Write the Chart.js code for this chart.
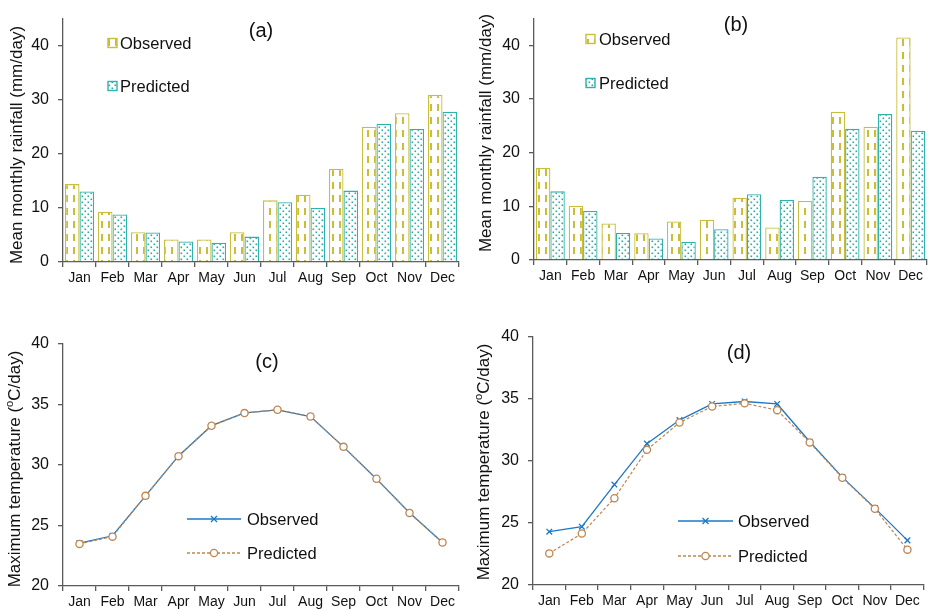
<!DOCTYPE html>
<html>
<head>
<meta charset="utf-8">
<script src="https://cdn.jsdelivr.net/npm/chart.js@4.4.0/dist/chart.umd.min.js"></script>
<style>
  html, body { margin:0; padding:0; background:#fff; }
  #wrap { position:relative; width:929px; height:612px; overflow:hidden; }
  canvas { position:absolute; }
</style>
</head>
<body>
<div id="wrap">
  <canvas id="ca" width="465" height="300" style="left:0;top:0"></canvas>
  <canvas id="cb" width="464" height="300" style="left:465px;top:0"></canvas>
  <canvas id="cc" width="465" height="312" style="left:0;top:300px"></canvas>
  <canvas id="cd" width="464" height="312" style="left:465px;top:300px"></canvas>
</div>
<script>
// ---------------- DATA ----------------
const months = ['Jan','Feb','Mar','Apr','May','Jun','Jul','Aug','Sep','Oct','Nov','Dec'];
const seriesNames = ['Observed','Predicted'];

const rainObsA  = [14.4, 9.3, 5.5, 4.15, 4.15, 5.5, 11.4, 12.45, 17.2, 25.0, 27.5, 30.9];
const rainPredA = [13.05, 8.8, 5.45, 3.8, 3.55, 4.7, 11.05, 10.0, 13.2, 25.55, 24.6, 27.8];

const rainObsB  = [17.2, 10.1, 6.8, 5.0, 7.2, 7.5, 11.6, 6.05, 11.0, 27.65, 24.85, 41.5];
const rainPredB = [12.8, 9.15, 5.05, 4.0, 3.4, 5.75, 12.25, 11.2, 15.5, 24.45, 27.2, 24.1];

const tempObsC  = [23.55, 24.15, 27.45, 30.75, 33.25, 34.3, 34.55, 34.0, 31.5, 28.85, 26.05, 23.6];
const tempPredC = [23.48, 24.08, 27.45, 30.73, 33.24, 34.29, 34.57, 34.01, 31.5, 28.86, 26.04, 23.59];

const tempObsD  = [24.3, 24.7, 28.1, 31.4, 33.3, 34.6, 34.8, 34.6, 31.55, 28.7, 26.2, 23.6];
const tempPredD = [22.55, 24.15, 27.0, 30.9, 33.1, 34.4, 34.65, 34.1, 31.5, 28.65, 26.15, 22.85];

const rainTicks = [0, 10, 20, 30, 40];
const tempTicks = [20, 25, 30, 35, 40];

// ---------------- STYLE ----------------
Chart.defaults.font.family = '"Liberation Sans", Arial, sans-serif';
Chart.defaults.color = '#111111';
const AXIS = '#5a5a5a';
const OBS_BAR = '#C9BD3E';
const PRED_BAR = '#2FB2AB';
const OBS_LINE = '#1B78C6';
const PRED_LINE = '#BE8650';

function makePattern(draw, w, h) {
  const t = document.createElement('canvas');
  t.width = w; t.height = h;
  const g = t.getContext('2d');
  g.fillStyle = '#ffffff'; g.fillRect(0, 0, w, h);
  draw(g);
  return document.createElement('canvas').getContext('2d').createPattern(t, 'repeat');
}
const dashPattern = makePattern(g => { g.fillStyle = '#CBBE36'; g.fillRect(3, 0, 2, 7); }, 7, 13);
const dotPattern = makePattern(g => {
  g.fillStyle = '#2BA9A2';
  g.fillRect(0.5, 0.5, 1.6, 1.6);
  g.fillRect(3.5, 3.5, 1.6, 1.6);
}, 6, 6);

// ---------------- OVERLAY PLUGIN (titles, legends) ----------------
const overlay = {
  id: 'overlay',
  afterDraw(chart, args, o) {
    const ctx = chart.ctx;
    ctx.save();
    ctx.fillStyle = '#111';
    ctx.font = '20px "Liberation Sans", Arial, sans-serif';
    ctx.textAlign = 'center'; ctx.textBaseline = 'middle';
    ctx.fillText(o.label, o.labelX, o.labelY);
    ctx.save();
    ctx.translate(o.ytX, o.ytY);
    ctx.rotate(-Math.PI / 2);
    const big = '17px "Liberation Sans", Arial, sans-serif';
    const small = '11px "Liberation Sans", Arial, sans-serif';
    let total = 0;
    o.ytSegs.forEach(s => { ctx.font = s.sup ? small : big; total += ctx.measureText(s.t).width; });
    let x = -total / 2;
    ctx.textAlign = 'left';
    o.ytSegs.forEach(s => {
      ctx.font = s.sup ? small : big;
      ctx.fillText(s.t, x, s.sup ? -5 : 0);
      x += ctx.measureText(s.t).width;
    });
    ctx.restore();
    ctx.font = '16.5px "Liberation Sans", Arial, sans-serif';
    ctx.textAlign = 'left'; ctx.textBaseline = 'middle';
    o.legend.forEach((it, i) => {
      const ds = chart.data.datasets[i];
      if (o.legendType === 'bar') {
        ctx.fillStyle = ds.backgroundColor;
        ctx.fillRect(it.x, it.y - 4.5, 9, 9);
        ctx.strokeStyle = ds.borderColor; ctx.lineWidth = 1.4;
        ctx.strokeRect(it.x, it.y - 4.5, 9, 9);
      } else {
        ctx.strokeStyle = ds.borderColor; ctx.lineWidth = 1.3;
        ctx.setLineDash(ds.borderDash || []);
        ctx.beginPath(); ctx.moveTo(it.x, it.y); ctx.lineTo(it.x2, it.y); ctx.stroke();
        ctx.setLineDash([]);
        const cx = (it.x + it.x2) / 2;
        if (ds.pointStyle === 'circle') {
          ctx.fillStyle = '#fff';
          ctx.beginPath(); ctx.arc(cx, it.y, 3.6, 0, Math.PI * 2); ctx.fill(); ctx.stroke();
        } else {
          ctx.beginPath();
          ctx.moveTo(cx - 3, it.y - 3); ctx.lineTo(cx + 3, it.y + 3);
          ctx.moveTo(cx - 3, it.y + 3); ctx.lineTo(cx + 3, it.y - 3);
          ctx.stroke();
        }
      }
      ctx.fillStyle = '#111';
      ctx.fillText(ds.label, it.tx, it.y + 1);
    });
    ctx.restore();
  }
};

function axisCommon() {
  return {
    border: { color: AXIS, width: 1.3 },
    grid: { drawOnChartArea: false, color: AXIS, tickColor: AXIS, lineWidth: 1.3, tickLength: 5 }
  };
}

function barChart(id, obs, pred, pad, yW, xH, ov) {
  return new Chart(document.getElementById(id), {
    type: 'bar',
    data: {
      labels: months,
      datasets: [
        { label: seriesNames[0], data: obs, backgroundColor: dashPattern, borderColor: OBS_BAR, borderWidth: 1.3 },
        { label: seriesNames[1], data: pred, backgroundColor: dotPattern, borderColor: PRED_BAR, borderWidth: 1.3 }
      ]
    },
    options: {
      responsive: false, animation: false,
      layout: { padding: pad },
      categoryPercentage: 0.88, barPercentage: 1.0,
      plugins: { legend: { display: false }, tooltip: { enabled: false }, overlay: ov },
      scales: {
        x: Object.assign(axisCommon(), {
          offset: true,
          ticks: { font: { size: 14 }, padding: 3, maxRotation: 0, autoSkip: false },
          afterFit: s => { s.height = xH; }
        }),
        y: Object.assign(axisCommon(), {
          min: 0, max: 45,
          ticks: { font: { size: 16 }, padding: 9, stepSize: 10 },
          afterBuildTicks: s => { s.ticks = rainTicks.map(v => ({ value: v })); },
          afterFit: s => { s.width = yW; }
        })
      }
    },
    plugins: [overlay]
  });
}

function lineChart(id, obs, pred, pad, yW, xH, ov) {
  return new Chart(document.getElementById(id), {
    type: 'line',
    data: {
      labels: months,
      datasets: [
        { label: seriesNames[0], data: obs, borderColor: OBS_LINE, borderWidth: 1.3, pointStyle: 'crossRot',
          pointRadius: 4, pointBorderColor: OBS_LINE, pointBorderWidth: 1.3, fill: false, tension: 0, order: 2 },
        { label: seriesNames[1], data: pred, borderColor: PRED_LINE, borderWidth: 1.2, borderDash: [3, 2],
          pointStyle: 'circle', pointRadius: 3.6, pointBackgroundColor: '#fff', pointBorderColor: PRED_LINE,
          pointBorderWidth: 1.3, fill: false, tension: 0, order: 1 }
      ]
    },
    options: {
      responsive: false, animation: false,
      layout: { padding: pad },
      plugins: { legend: { display: false }, tooltip: { enabled: false }, overlay: ov },
      scales: {
        x: Object.assign(axisCommon(), {
          offset: true,
          grid: { offset: true, drawOnChartArea: false, color: AXIS, tickColor: AXIS, lineWidth: 1.3, tickLength: 5 },
          ticks: { font: { size: 14 }, padding: 3, maxRotation: 0, autoSkip: false },
          afterFit: s => { s.height = xH; }
        }),
        y: Object.assign(axisCommon(), {
          min: 20, max: 40,
          ticks: { font: { size: 16 }, padding: 9, stepSize: 5 },
          afterBuildTicks: s => { s.ticks = tempTicks.map(v => ({ value: v })); },
          afterFit: s => { s.width = yW; }
        })
      }
    },
    plugins: [overlay]
  });
}

const rainTitle = [{ t: 'Mean monthly rainfall (mm/day)' }];
const tempTitle = [{ t: 'Maximum temperature (' }, { t: 'o', sup: true }, { t: 'C/day)' }];

barChart('ca', rainObsA, rainPredA, { left: 0, top: 13, right: 6, bottom: 0 }, 63, 38, {
  label: '(a)', labelX: 261, labelY: 31, ytX: 17, ytY: 145, ytSegs: rainTitle, legendType: 'bar',
  legend: [{ x: 108, y: 43, tx: 120 }, { x: 108, y: 86, tx: 120 }]
});
barChart('cb', rainObsB, rainPredB, { left: 0, top: 7, right: 2, bottom: 0 }, 69, 40, {
  label: '(b)', labelX: 271, labelY: 25, ytX: 21, ytY: 133, ytSegs: rainTitle, legendType: 'bar',
  legend: [{ x: 121, y: 39, tx: 134 }, { x: 121, y: 83, tx: 134 }]
});
lineChart('cc', tempObsC, tempPredC, { left: 0, top: 44, right: 6, bottom: 0 }, 63, 26, {
  label: '(c)', labelX: 267, labelY: 62, ytX: 15, ytY: 169, ytSegs: tempTitle, legendType: 'line',
  legend: [{ x: 187, x2: 241, y: 219, tx: 247 }, { x: 187, x2: 241, y: 253, tx: 247 }]
});
lineChart('cd', tempObsD, tempPredD, { left: 0, top: 37, right: 2, bottom: 0 }, 68, 27, {
  label: '(d)', labelX: 274, labelY: 53, ytX: 19, ytY: 162, ytSegs: tempTitle, legendType: 'line',
  legend: [{ x: 213, x2: 268, y: 221, tx: 273 }, { x: 213, x2: 268, y: 256, tx: 273 }]
});
</script>
</body>
</html>
